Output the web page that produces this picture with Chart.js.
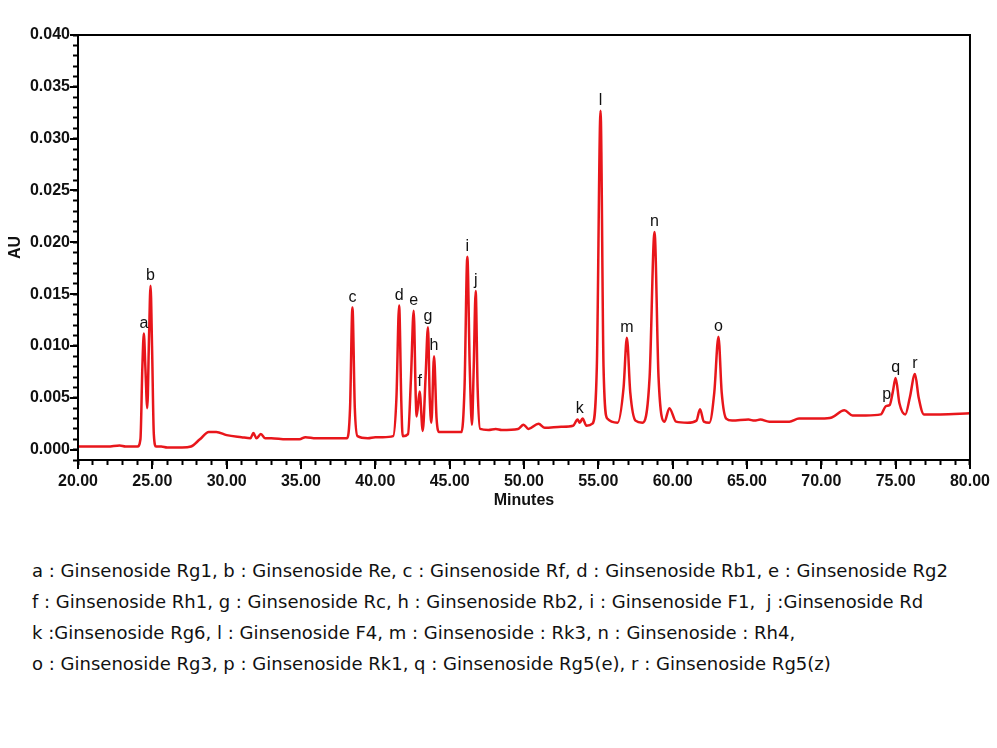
<!DOCTYPE html>
<html>
<head>
<meta charset="utf-8">
<script src="https://cdn.jsdelivr.net/npm/chart.js@4.4.1/dist/chart.umd.min.js"></script>
<style>
  body { margin: 0; background: #fff; width: 997px; height: 748px; overflow: hidden; position: relative; }
  #wrap { position: absolute; left: 0; top: 0; width: 997px; height: 520px; }
  #notes { position: absolute; left: 32px; top: 555px; font-family: "DejaVu Sans", sans-serif; font-size: 16px;
           line-height: 31px; color: #111; white-space: pre; }
</style>
</head>
<body>
<div id="wrap"><canvas id="chart" width="997" height="520"></canvas></div>
<div id="notes"></div>
<script>
// trace (minutes, AU)
const times = [
  20.0, 21.0, 22.0, 22.8, 23.2, 24.0, 24.2, 24.33, 24.43, 24.53, 24.66, 24.78, 24.88, 24.98, 25.1, 25.25,
  25.6, 26.0, 27.0, 27.6, 28.2, 28.8, 29.3, 30.0, 31.0, 31.6, 31.8, 32.0, 32.3, 32.6, 33.0, 34.0,
  34.9, 35.3, 36.0, 37.0, 38.1, 38.3, 38.46, 38.62, 38.8, 39.5, 40.0, 40.5, 41.2, 41.42, 41.6, 41.75,
  41.84, 42.2, 42.4, 42.58, 42.72, 42.78, 42.98, 43.19, 43.38, 43.54, 43.66, 43.77, 43.95, 44.12, 44.3, 45.0,
  45.8, 46.0, 46.19, 46.35, 46.5, 46.62, 46.75, 46.88, 47.05, 47.6, 48.1, 48.5, 49.6, 49.97, 50.3, 50.98,
  51.4, 52.5, 53.3, 53.6, 53.75, 53.94, 54.2, 54.6, 54.9, 55.15, 55.35, 55.6, 56.3, 56.7, 56.92, 57.15,
  57.5, 57.97, 58.45, 58.78, 59.05, 59.45, 59.78, 60.23, 61.0, 61.6, 61.84, 62.1, 62.47, 62.8, 63.08, 63.3,
  63.6, 64.0, 65.1, 65.5, 65.9, 66.5, 67.85, 68.5, 70.0, 70.7, 71.55, 72.1, 73.0, 74.0, 74.35, 74.6,
  74.8, 75.0, 75.25, 75.65, 75.95, 76.3, 76.55, 76.9, 78.0, 80.0
];
const absorb = [
  0.0003, 0.0003, 0.0003, 0.0004, 0.0003, 0.0003, 0.0010, 0.0080, 0.0112, 0.0080, 0.0040, 0.0110, 0.0158, 0.0100, 0.0015, 0.0003,
  0.0003, 0.0002, 0.0002, 0.0003, 0.0010, 0.0017, 0.0017, 0.0014, 0.0012, 0.0011, 0.0016, 0.0011, 0.0015, 0.0011, 0.0011, 0.0010,
  0.0010, 0.0012, 0.0011, 0.0011, 0.0011, 0.0040, 0.0137, 0.0040, 0.0013, 0.0011, 0.0012, 0.0012, 0.0013, 0.0050, 0.0139, 0.0045,
  0.0013, 0.0015, 0.0070, 0.0134, 0.0050, 0.0032, 0.0056, 0.0018, 0.0070, 0.0118, 0.0050, 0.0026, 0.0090, 0.0030, 0.0017, 0.0017,
  0.0017, 0.0060, 0.0186, 0.0080, 0.0024, 0.0080, 0.0153, 0.0060, 0.0020, 0.0019, 0.0020, 0.0019, 0.0020, 0.0024, 0.0020, 0.0025,
  0.0021, 0.0022, 0.0023, 0.0029, 0.0026, 0.0030, 0.0023, 0.0025, 0.0080, 0.0327, 0.0080, 0.0030, 0.0026, 0.0060, 0.0108, 0.0055,
  0.0028, 0.0026, 0.0070, 0.0210, 0.0070, 0.0027, 0.0040, 0.0027, 0.0026, 0.0028, 0.0039, 0.0027, 0.0026, 0.0055, 0.0109, 0.0055,
  0.0030, 0.0028, 0.0029, 0.0028, 0.0029, 0.0027, 0.0027, 0.0030, 0.0030, 0.0031, 0.0038, 0.0033, 0.0033, 0.0034, 0.0042, 0.0043,
  0.0055, 0.0069, 0.0045, 0.0034, 0.0050, 0.0073, 0.0050, 0.0034, 0.0034, 0.0035
];

// peak letters and their apex
const peakNames = ['a', 'b', 'c', 'd', 'e', 'f', 'g', 'h', 'i', 'j', 'k', 'l', 'm', 'n', 'o', 'p', 'q', 'r'];
const peakTimes = [24.43, 24.88, 38.46, 41.6, 42.58, 42.98, 43.54, 43.95, 46.19, 46.75, 53.75, 55.15, 56.92, 58.78, 63.08, 74.4, 75.0, 76.3];
const peakHeights = [0.0112, 0.0158, 0.0137, 0.0139, 0.0134, 0.0056, 0.0118, 0.0090, 0.0186, 0.0153, 0.0030, 0.0327, 0.0108, 0.0210, 0.0109, 0.0043, 0.0069, 0.0073];

const xTickLabels = ['20.00', '25.00', '30.00', '35.00', '40.00', '45.00', '50.00', '55.00', '60.00', '65.00', '70.00', '75.00', '80.00'];
const yTickLabels = ['0.000', '0.005', '0.010', '0.015', '0.020', '0.025', '0.030', '0.035', '0.040'];

const notes = [
  'a : Ginsenoside Rg1, b : Ginsenoside Re, c : Ginsenoside Rf, d : Ginsenoside Rb1, e : Ginsenoside Rg2',
  'f : Ginsenoside Rh1, g : Ginsenoside Rc, h : Ginsenoside Rb2, i : Ginsenoside F1,  j :Ginsenoside Rd',
  'k :Ginsenoside Rg6, l : Ginsenoside F4, m : Ginsenoside : Rk3, n : Ginsenoside : Rh4,',
  'o : Ginsenoside Rg3, p : Ginsenoside Rk1, q : Ginsenoside Rg5(e), r : Ginsenoside Rg5(z)'
];

const notesEl = document.getElementById('notes');
notesEl.textContent = notes.join('\n');
// fit the first line to the width it has in the figure
const probe = document.createElement('span');
probe.style.cssText = 'position:absolute;visibility:hidden;white-space:pre;font-family:"DejaVu Sans",sans-serif;font-size:16px';
probe.textContent = notes[0];
document.body.appendChild(probe);
notesEl.style.fontSize = (16 * 916 / probe.getBoundingClientRect().width).toFixed(2) + 'px';
probe.remove();

const sans = '"Liberation Sans", Arial, sans-serif';
const tickFont = { family: sans, size: 16, weight: 'bold' };

const extras = {
  id: 'extras',
  afterDatasetsDraw(chart) {
    const { ctx, chartArea: a, scales: { x, y } } = chart;
    ctx.save();
    ctx.strokeStyle = '#000';
    ctx.lineWidth = 2;
    ctx.strokeRect(a.left, a.top, a.right - a.left, a.bottom - a.top);
    ctx.beginPath();
    xTickLabels.forEach(s => {
      const px = Math.round(x.getPixelForValue(parseFloat(s)));
      ctx.moveTo(px, a.bottom); ctx.lineTo(px, a.bottom + 9);
    });
    yTickLabels.forEach(s => {
      const py = Math.round(y.getPixelForValue(parseFloat(s)));
      ctx.moveTo(a.left, py); ctx.lineTo(a.left - 8, py);
    });
    ctx.stroke();
    ctx.fillStyle = '#111';
    ctx.font = '16px ' + sans;
    ctx.textAlign = 'center';
    ctx.textBaseline = 'alphabetic';
    peakNames.forEach((n, i) => {
      ctx.fillText(n, x.getPixelForValue(peakTimes[i]), y.getPixelForValue(peakHeights[i]) - 6);
    });
    ctx.restore();
  }
};

new Chart(document.getElementById('chart'), {
  type: 'line',
  data: {
    datasets: [{
      data: times.map((t, i) => ({ x: t, y: absorb[i] })),
      borderColor: '#e8161b',
      borderWidth: 2.5,
      pointRadius: 0,
      fill: false,
      cubicInterpolationMode: 'monotone'
    }]
  },
  options: {
    responsive: false,
    animation: false,
    devicePixelRatio: 1,
    layout: { padding: { top: 35, right: 26, left: 0, bottom: 0 } },
    plugins: { legend: { display: false }, tooltip: { enabled: false } },
    scales: {
      x: {
        type: 'linear', min: 20, max: 80,
        afterFit: s => { s.height = 60; },
        border: { color: '#000', width: 2 },
        grid: { drawOnChartArea: false, tickLength: 5, tickWidth: 2, tickColor: '#000' },
        ticks: {
          stepSize: 1, autoSkip: false, maxTicksLimit: 100, maxRotation: 0, padding: 7,
          color: '#111', font: tickFont,
          callback: v => { const s = Number(v).toFixed(2); return xTickLabels.includes(s) ? s : ''; }
        },
        title: { display: true, text: 'Minutes', color: '#111', font: { family: sans, size: 16, weight: 'bold' }, padding: { top: 0, bottom: 10 } }
      },
      y: {
        min: -0.001, max: 0.040,
        afterFit: s => { s.width = 78; },
        border: { color: '#000', width: 2 },
        grid: { drawOnChartArea: false, tickLength: 5, tickWidth: 2, tickColor: '#000' },
        ticks: {
          stepSize: 0.001, autoSkip: false, maxTicksLimit: 100, padding: 3,
          color: '#111', font: tickFont,
          callback: v => { const s = Number(v).toFixed(3); return yTickLabels.includes(s) ? s : ''; }
        },
        title: { display: true, text: 'AU', color: '#111', font: { family: sans, size: 16, weight: 'bold' }, padding: { top: 6, bottom: 0 } }
      }
    }
  },
  plugins: [extras]
});
</script>
</body>
</html>
